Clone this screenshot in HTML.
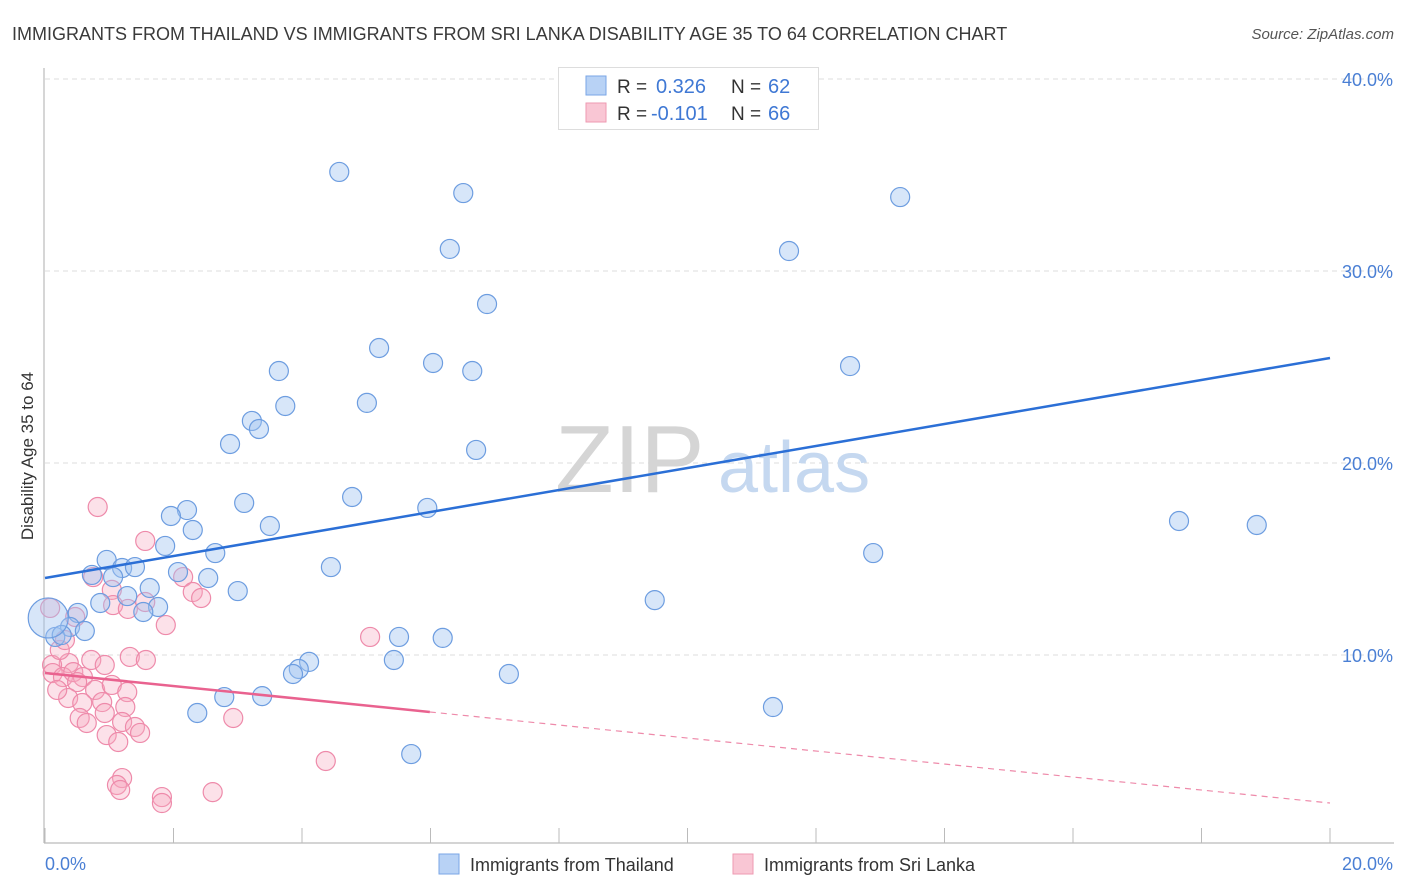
<!DOCTYPE html>
<html><head><meta charset="utf-8">
<style>
body{margin:0;background:#fff;font-family:"Liberation Sans",sans-serif;}
#wrap{position:relative;width:1406px;height:892px;overflow:hidden;}
svg text{font-family:"Liberation Sans",sans-serif;}
</style></head>
<body>
<div id="wrap">
<svg id="chart" width="1406" height="892">
  <text x="12" y="40" font-size="18" fill="#3a3a3a">IMMIGRANTS FROM THAILAND VS IMMIGRANTS FROM SRI LANKA DISABILITY AGE 35 TO 64 CORRELATION CHART</text>
  <text x="1394" y="39" font-size="15" fill="#555" font-style="italic" text-anchor="end">Source: ZipAtlas.com</text>
  <text transform="translate(33,456) rotate(-90)" font-size="17" fill="#333" text-anchor="middle">Disability Age 35 to 64</text>
  <g id="grid"></g>
  <text x="555" y="492" font-size="96" fill="#d5d5d5" font-family="Liberation Serif">ZIP</text>
  <text x="718" y="492" font-size="72" fill="#c5d8f0">atlas</text>
  <line x1="44" y1="68" x2="44" y2="843" stroke="#bbb" stroke-width="1.2"/>
  <line x1="44" y1="843" x2="1394" y2="843" stroke="#bbb" stroke-width="1.2"/>
  <g id="xticks"></g>
  <g id="ylabels"></g>
  <g id="pinkpts"></g>
  <g id="bluepts"></g>
  <g id="trends"></g>
  <text x="45" y="870" font-size="18" fill="#4a7fd4">0.0%</text>
  <text x="1393" y="870" font-size="18" fill="#4a7fd4" text-anchor="end">20.0%</text>
  <g>
    <rect x="558.5" y="67.5" width="260" height="62" fill="#fff" stroke="#ddd"/>
    <rect x="586" y="76" width="20" height="19" fill="#b8d2f5" stroke="#7aa6e6"/>
    <text x="617" y="93" font-size="19" fill="#333">R =</text>
    <text x="656" y="93" font-size="20" fill="#3f78d4">0.326</text>
    <text x="731" y="93" font-size="19" fill="#333">N =</text>
    <text x="768" y="93" font-size="20" fill="#3f78d4">62</text>
    <rect x="586" y="103" width="20" height="19" fill="#f9c6d4" stroke="#ee9ab2"/>
    <text x="617" y="120" font-size="19" fill="#333">R =</text>
    <text x="651" y="120" font-size="20" fill="#3f78d4">-0.101</text>
    <text x="731" y="120" font-size="19" fill="#333">N =</text>
    <text x="768" y="120" font-size="20" fill="#3f78d4">66</text>
  </g>
  <g>
    <rect x="439" y="854" width="20" height="20" fill="#b8d2f5" stroke="#7aa6e6"/>
    <text x="470" y="871" font-size="18" fill="#333">Immigrants from Thailand</text>
    <rect x="733" y="854" width="20" height="20" fill="#f9c6d4" stroke="#ee9ab2"/>
    <text x="764" y="871" font-size="18" fill="#333">Immigrants from Sri Lanka</text>
  </g>
</svg>
</div>
<script>
const yTicks=[10,20,30,40];
const yTickLabels=["10.0%","20.0%","30.0%","40.0%"];
const xTicks=[0,2,4,6,8,10,12,14,16,18,20];
const thaiX=[4.58,6.51,13.31,6.30,11.58,6.88,5.20,6.04,3.64,6.65,12.53,5.01,3.74,3.22,3.33,2.88,6.71,4.78,3.10,2.21,5.95,1.96,3.50,2.30,17.65,18.86,1.87,0.96,2.65,12.89,1.20,1.40,4.45,0.73,1.06,2.07,2.54,3.00,1.63,1.28,0.86,1.76,1.53,9.49,0.51,0.39,0.62,0.16,0.26,5.51,6.19,4.11,3.95,3.86,5.43,7.22,2.79,3.38,2.37,11.33,5.70,0.05];
const thaiY=[35.16,34.06,33.85,31.15,31.04,28.28,25.99,25.21,24.79,24.79,25.05,23.13,22.97,22.19,21.77,20.99,20.68,18.23,17.92,17.55,17.66,17.24,16.72,16.51,16.98,16.77,15.68,14.95,15.31,15.31,14.53,14.58,14.58,14.17,14.06,14.32,14.01,13.33,13.49,13.07,12.71,12.50,12.24,12.86,12.19,11.46,11.25,10.94,11.04,10.94,10.89,9.64,9.27,9.01,9.74,9.01,7.81,7.86,6.98,7.29,4.84,11.93];
const sriX=[0.82,1.56,0.75,2.15,1.04,2.30,2.43,1.06,1.29,1.56,1.88,0.08,0.47,1.32,1.57,0.72,0.93,0.37,0.11,0.12,0.28,0.44,0.59,0.50,0.78,1.04,1.28,0.36,0.58,0.89,1.25,0.54,0.65,0.93,1.20,1.40,1.48,0.96,1.14,2.93,1.20,1.12,1.17,1.82,1.82,2.61,5.06,4.37,0.23,0.31,0.19];
const sriY=[17.71,15.94,14.06,14.06,13.39,13.28,12.97,12.60,12.40,12.76,11.56,12.45,11.98,9.90,9.74,9.74,9.48,9.58,9.48,9.06,8.85,9.11,8.85,8.59,8.18,8.44,8.07,7.76,7.50,7.55,7.29,6.72,6.46,6.98,6.51,6.25,5.94,5.83,5.47,6.72,3.59,3.23,2.97,2.60,2.29,2.86,10.94,4.48,10.26,10.78,8.18];
const thaiTrend=[14.01,25.47];
const sriTrend=[9.06,2.29];
const sriSolidEnd=5.99;

const NS="http://www.w3.org/2000/svg";
function xs(v){return 45+v/20*1285;}
function ys(v){return 847-v*19.2;}
function mk(tag,attrs,parent){const e=document.createElementNS(NS,tag);for(const k in attrs)e.setAttribute(k,attrs[k]);parent.appendChild(e);return e;}

const grid=document.getElementById('grid');
const yl=document.getElementById('ylabels');
yTicks.forEach((t,i)=>{
  const l=mk('line',{x1:45,x2:1394,y1:ys(t),y2:ys(t),stroke:'#ddd','stroke-dasharray':'5,4'},grid);
  
  
  const tx=mk('text',{x:1393,y:ys(t)+7,'font-size':18,fill:'#4a7fd4','text-anchor':'end'},yl);
  tx.textContent=yTickLabels[i];
  
  
});
const xt=document.getElementById('xticks');
xTicks.forEach(t=>{
  const l=mk('line',{x1:xs(t),x2:xs(t),y1:828,y2:843,stroke:'#bbb'},xt);
  
  
});
const pp=document.getElementById('pinkpts');
sriX.forEach((x,i)=>{
  const c=mk('circle',{cx:xs(x),cy:ys(sriY[i]),r:9.5,fill:'rgba(246,168,192,0.35)',stroke:'#ee8aaa','stroke-width':1.2},pp);
  
  
});
const bp=document.getElementById('bluepts');
thaiX.forEach((x,i)=>{
  const big=i===thaiX.length-1;
  const c=mk('circle',{cx:xs(x),cy:ys(thaiY[i]),r:big?20:9.5,fill:'rgba(160,195,240,0.42)',stroke:'#6d9de0','stroke-width':1.2},bp);
  
  
});
const tr=document.getElementById('trends');
const b=mk('line',{x1:xs(0),y1:ys(thaiTrend[0]),x2:xs(20),y2:ys(thaiTrend[1]),stroke:'#2b6fd6','stroke-width':2.5},tr);


const ym=sriTrend[0]+(sriTrend[1]-sriTrend[0])*sriSolidEnd/20;
const p1=mk('line',{x1:xs(0),y1:ys(sriTrend[0]),x2:xs(sriSolidEnd),y2:ys(ym),stroke:'#e9628f','stroke-width':2.5},tr);


const p2=mk('line',{x1:xs(sriSolidEnd),y1:ys(ym),x2:xs(20),y2:ys(sriTrend[1]),stroke:'#ee8aaa','stroke-width':1.2,'stroke-dasharray':'6,5'},tr);


</script>
</body></html>
